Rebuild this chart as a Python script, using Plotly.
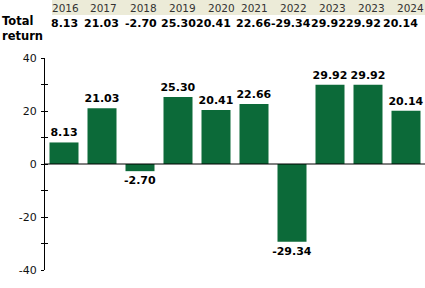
import plotly.graph_objects as go

years = ["2016", "2017", "2018", "2019", "2020", "2021", "2022", "2023", "2023", "2024"]
returns = [8.13, 21.03, -2.70, 25.30, 20.41, 22.66, -29.34, 29.92, 29.92, 20.14]
row_label = "Total<br>return"
y_ticks = [-40, -30, -20, -10, 0, 10, 20, 30, 40]
y_ticktext = ["-40", "", "-20", "", "0", "", "20", "", "40"]

W, H = 425, 288
ML, MR, MT, MB = 45, 0, 58, 18
PW, PH = W - ML - MR, H - MT - MB

def px_x(p):
    return (p - ML) / PW

def px_y(p):
    return (H - MB - p) / PH

FONT = "DejaVu Sans"
GREEN = "#0c6a39"

labels = [f"{v:.2f}" for v in returns]
xs = list(range(len(returns)))

fig = go.Figure()
fig.add_trace(go.Bar(
    x=xs, y=returns, marker=dict(color=GREEN, line=dict(width=0)),
    text=labels, textposition="outside", constraintext="none",
    textfont=dict(family=FONT, size=11, color="#000", weight="bold"),
    cliponaxis=False, hoverinfo="skip",
))
# invisible trace to carry the second (inside-tick) y axis
fig.add_trace(go.Scatter(x=[0], y=[0], yaxis="y2", mode="markers",
                         marker=dict(opacity=0), hoverinfo="skip", showlegend=False))

# header column centres (pixels) of the table above the chart
year_cx = [65.5, 103.5, 143.5, 182, 221.5, 254, 293.5, 332.5, 371, 410]
val_cx = [64.7, 101.7, 140.7, 178, 213, 253, 290.5, 328, 363, 400]

annotations = []
for yr, cx in zip(years, year_cx):
    annotations.append(dict(x=px_x(cx), y=px_y(7.5), xref="paper", yref="paper",
                            text=yr, showarrow=False, xanchor="center", yanchor="middle",
                            font=dict(family=FONT, size=10.5, color="#333")))
for lab, cx in zip(labels, val_cx):
    annotations.append(dict(x=px_x(cx), y=px_y(24), xref="paper", yref="paper",
                            text=lab, showarrow=False, xanchor="center", yanchor="middle",
                            font=dict(family=FONT, size=11, color="#000", weight="bold")))
annotations.append(dict(x=px_x(0), y=px_y(28.5), xref="paper", yref="paper",
                        text=row_label, showarrow=False, xanchor="left", yanchor="middle",
                        align="left",
                        font=dict(family=FONT, size=11.5, color="#000", weight="bold")))

shapes = [
    dict(type="rect", xref="paper", yref="paper", x0=px_x(52), x1=px_x(425),
         y0=px_y(15), y1=px_y(0), fillcolor="#ecebd8", line=dict(width=0), layer="below"),
    dict(type="line", xref="paper", yref="y", x0=0, x1=1, y0=0, y1=0,
         line=dict(color="#000", width=1), layer="above"),
]

fig.update_layout(
    width=W, height=H, margin=dict(l=ML, r=MR, t=MT, b=MB, pad=0),
    paper_bgcolor="white", plot_bgcolor="white", showlegend=False,
    bargap=1 - 29 / 38,
    xaxis=dict(range=[-0.5, len(returns) - 0.5], showticklabels=False, showgrid=False,
               zeroline=False, showline=False, ticks=""),
    yaxis=dict(range=[-40, 40], tickmode="array", tickvals=y_ticks, ticktext=y_ticktext,
               ticks="outside", ticklen=3, tickcolor="#000", showline=True, linecolor="#000",
               linewidth=1, showgrid=False, zeroline=False, ticklabelstandoff=2,
               tickfont=dict(family=FONT, size=11, color="#111")),
    yaxis2=dict(range=[-40, 40], overlaying="y", side="left", tickmode="array",
                tickvals=y_ticks, ticks="inside", ticklen=3, tickcolor="#000",
                showticklabels=False, showline=False, showgrid=False, zeroline=False),
    annotations=annotations, shapes=shapes,
)

fig.write_html("out.html", config=dict(displayModeBar=False))
